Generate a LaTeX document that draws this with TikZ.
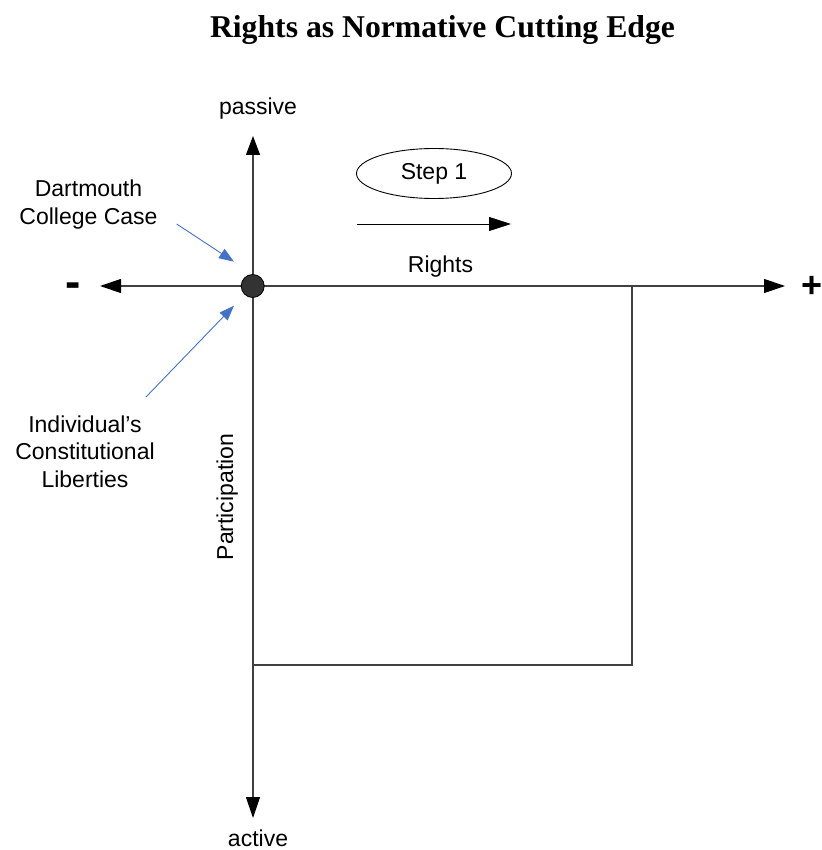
\documentclass[tikz,border=0pt]{standalone}
\usepackage{fontspec}
\setmainfont{Liberation Sans}
\newfontfamily\titlefont{Liberation Serif}
\usetikzlibrary{arrows.meta,shapes.geometric}
\definecolor{axisgray}{RGB}{64,64,64}
\definecolor{pointerblue}{RGB}{68,114,196}
\begin{document}
\begin{tikzpicture}[x=1pt,y=-1pt,
  lbl/.style={font=\fontsize{23}{27.5}\selectfont, inner sep=0pt, align=center},
  signlbl/.style={font=\bfseries\fontsize{36}{36}\selectfont, inner sep=0pt},
  axisline/.style={draw=axisgray, line width=1.2pt},
  frameline/.style={draw=axisgray, line width=1.1pt},
  pointer/.style={draw=pointerblue, line width=0.9pt,
    -{Triangle[length=15pt,width=11pt]}},
  stepoval/.style={ellipse, draw=black, line width=0.9pt, minimum width=155pt,
    minimum height=50pt, inner sep=0pt, font=\fontsize{23}{27.5}\selectfont},
  hub/.style={circle, fill=black!80, draw=black, line width=0.8pt,
    minimum size=23pt, inner sep=0pt}]
\useasboundingbox (0,0) rectangle (821,850);

% title
\node[font=\titlefont\bfseries\fontsize{31.7}{36}\selectfont, anchor=base, inner sep=0pt]
  (title) at (442.5,37.5) {Rights as Normative Cutting Edge};

% axis end points
\coordinate (west) at (100,286);
\coordinate (east) at (785,286);
\coordinate (north) at (253,136);
\coordinate (south) at (253,818);

% quadrant frame
\draw[frameline] (253,665) -| (632,286);

% axes
\draw[axisline, {Triangle[length=21pt,width=14pt,color=black]}-{Triangle[length=21pt,width=14pt,color=black]}] (west) -- (east);
\draw[axisline, {Triangle[length=19pt,width=14pt,color=black]}-{Triangle[length=21pt,width=14pt,color=black]}] (north) -- (south);

% origin
\node[hub] (origin) at (252.7,286) {};

% axis labels
\node[lbl, anchor=base] (passive) at (258,115) {passive};
\node[lbl, anchor=base] (active) at (258,846.5) {active};
\node[lbl, anchor=base] (rights) at (440.5,272) {Rights};
\node[lbl, anchor=base, rotate=90] (participation) at (233,497) {Participation};
\node[signlbl, font=\bfseries\fontsize{46}{46}\selectfont, anchor=base] (minus) at (73.5,297) {-};
\node[signlbl] (plus) at (812,287) {+};

% step marker
\node[stepoval] (step) at (434,173.5) {Step 1};
\coordinate (stepstart) at (357,224);
\coordinate (stepend) at (511,224);
\draw[line width=0.9pt, -{Triangle[length=22pt,width=14pt]}] (stepstart) -- (stepend);

% case notes (base anchor sits on the last line)
\node[lbl, anchor=base] (dartmouth) at (88.5,224) {Dartmouth\\College Case};
\node[lbl, anchor=base] (liberties) at (85,487) {Individual's\\Constitutional\\Liberties};
\coordinate (dtail) at (176.7,224);
\coordinate (dtip) at (234,261.7);
\coordinate (ltail) at (146,397);
\coordinate (ltip) at (234,305.7);
\draw[pointer] (dtail) -- (dtip);
\draw[pointer] (ltail) -- (ltip);
\end{tikzpicture}
\end{document}
